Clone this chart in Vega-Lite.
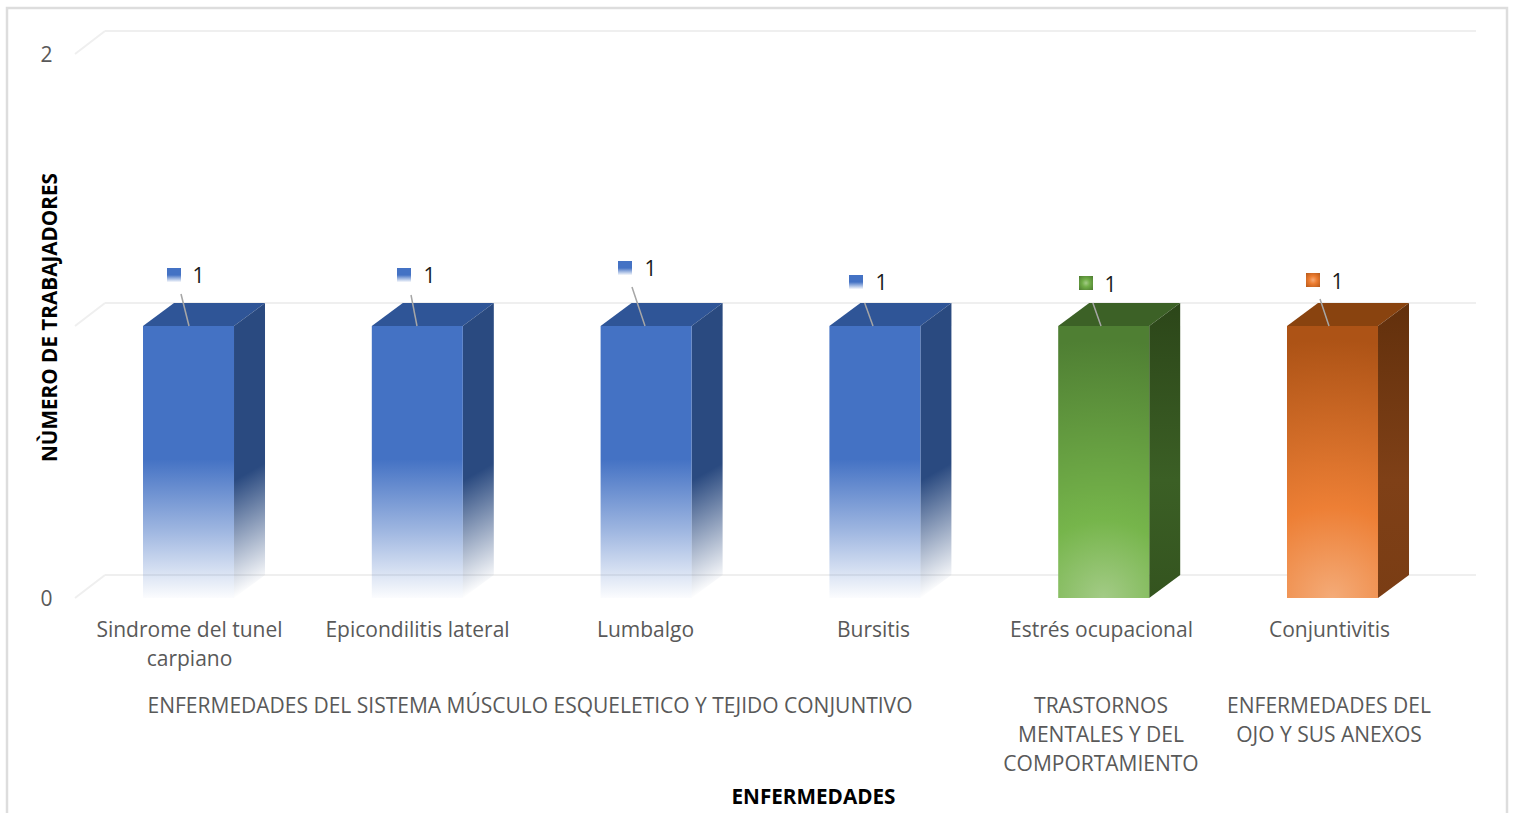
{
"$schema":"https://vega.github.io/schema/vega-lite/v6.json",
"width":1401,"height":568,"autosize":{"type":"none"},
"padding":{"left":75,"top":30,"right":38,"bottom":215},
"background":"#ffffff",
"view":{"stroke":null},
"config":{"font":"Open Sans","view":{"stroke":null}},
"datasets":{
"bars":[
{"name":"Sindrome del tunel carpiano","group":"blue","i":0,"value":1},
{"name":"Epicondilitis lateral","group":"blue","i":1,"value":1},
{"name":"Lumbalgo","group":"blue","i":2,"value":1},
{"name":"Bursitis","group":"blue","i":3,"value":1},
{"name":"Estrés ocupacional","group":"green","i":4,"value":1},
{"name":"Conjuntivitis","group":"orange","i":5,"value":1}],
"sides":[
{"b":0,"group":"blue","sx":0.1989,"lo":0,"hi":1},{"b":0,"group":"blue","sx":0.3344,"lo":0.0846,"hi":1.0846},
{"b":1,"group":"blue","sx":1.1989,"lo":0,"hi":1},{"b":1,"group":"blue","sx":1.3344,"lo":0.0846,"hi":1.0846},
{"b":2,"group":"blue","sx":2.1989,"lo":0,"hi":1},{"b":2,"group":"blue","sx":2.3344,"lo":0.0846,"hi":1.0846},
{"b":3,"group":"blue","sx":3.1989,"lo":0,"hi":1},{"b":3,"group":"blue","sx":3.3344,"lo":0.0846,"hi":1.0846},
{"b":4,"group":"green","sx":4.1989,"lo":0,"hi":1},{"b":4,"group":"green","sx":4.3344,"lo":0.0846,"hi":1.0846},
{"b":5,"group":"orange","sx":5.1989,"lo":0,"hi":1},{"b":5,"group":"orange","sx":5.3344,"lo":0.0846,"hi":1.0846}],
"tops":[
{"b":0,"group":"blue","ty":1,"a":-0.1989,"c":0.1989},{"b":0,"group":"blue","ty":1.0846,"a":-0.0634,"c":0.3344},
{"b":1,"group":"blue","ty":1,"a":0.8011,"c":1.1989},{"b":1,"group":"blue","ty":1.0846,"a":0.9366,"c":1.3344},
{"b":2,"group":"blue","ty":1,"a":1.8011,"c":2.1989},{"b":2,"group":"blue","ty":1.0846,"a":1.9366,"c":2.3344},
{"b":3,"group":"blue","ty":1,"a":2.8011,"c":3.1989},{"b":3,"group":"blue","ty":1.0846,"a":2.9366,"c":3.3344},
{"b":4,"group":"green","ty":1,"a":3.8011,"c":4.1989},{"b":4,"group":"green","ty":1.0846,"a":3.9366,"c":4.3344},
{"b":5,"group":"orange","ty":1,"a":4.8011,"c":5.1989},{"b":5,"group":"orange","ty":1.0846,"a":4.9366,"c":5.3344}],
"grid":[
{"x0":-0.3649,"x1":5.6272,"y0":0.0846,"y1":0.0846},
{"x0":-0.3649,"x1":5.6272,"y0":1.0846,"y1":1.0846},
{"x0":-0.3649,"x1":5.6272,"y0":2.0846,"y1":2.0846},
{"x0":-0.4961,"x1":-0.3649,"y0":0,"y1":0.0846},
{"x0":-0.4961,"x1":-0.3649,"y0":1,"y1":1.0846},
{"x0":-0.4961,"x1":-0.3649,"y0":2,"y1":2.0846}],
"labels":[
{"name":"Sindrome del tunel carpiano","group":"blue","mx":-0.0634,"my":1.1875,"tx":0.0415,"ty":1.1838,"lx":-0.0328,"ly":1.1176,"bx":0.0022,"by":1,"value":1},
{"name":"Epicondilitis lateral","group":"blue","mx":0.9419,"my":1.1875,"tx":1.0511,"ty":1.1838,"lx":0.9725,"ly":1.114,"bx":0.9987,"by":1,"value":1},
{"name":"Lumbalgo","group":"blue","mx":1.9078,"my":1.2132,"tx":2.017,"ty":1.2096,"lx":1.9383,"ly":1.1434,"bx":1.9952,"by":1,"value":1},
{"name":"Bursitis","group":"blue","mx":2.9174,"my":1.1618,"tx":3.0266,"ty":1.1581,"lx":2.9554,"ly":1.0846,"bx":2.9917,"by":1,"value":1},
{"name":"Estrés ocupacional","group":"green","mx":3.9226,"my":1.1581,"tx":4.0275,"ty":1.1507,"lx":3.9528,"ly":1.0846,"bx":3.9882,"by":1,"value":1},
{"name":"Conjuntivitis","group":"orange","mx":4.9148,"my":1.1691,"tx":5.0197,"ty":1.1618,"lx":4.9454,"ly":1.0993,"bx":4.9847,"by":1,"value":1}],
"groups":[
{"label":"ENFERMEDADES DEL SISTEMA MÚSCULO ESQUELETICO Y TEJIDO CONJUNTIVO","at":1.4926},
{"label":"TRASTORNOS\nMENTALES Y DEL\nCOMPORTAMIENTO","at":3.9882},
{"label":"ENFERMEDADES DEL\nOJO Y SUS ANEXOS","at":4.9847}]
},
"layer":[
{"data":{"values":[{"x0":-0.7933,"x1":5.7627,"y0":2.1691,"y1":-1}]},
 "mark":{"type":"rect","fill":null,"stroke":"#dddddd","strokeWidth":2.5},
 "encoding":{
  "x":{"field":"x0","type":"quantitative","scale":{"domain":[-0.4961,5.6272],"nice":false,"zero":false},
   "axis":{"values":[0.0022,0.9987,1.9952,2.9917,3.9882,4.9847],"domain":false,"ticks":false,"grid":false,"labelFontSize":21,"labelColor":"#595959","labelPadding":21,"labelLineHeight":29,"labelBaseline":"top","labelOverlap":false,"labelFlush":false,"labelLimit":400,
    "labelExpr":"split(['Sindrome del tunel\\ncarpiano','Epicondilitis lateral','Lumbalgo','Bursitis','Estrés ocupacional','Conjuntivitis'][round(datum.index*5)],'\\n')",
    "title":"ENFERMEDADES","titleFontSize":20.7,"titleFontWeight":"bold","titleColor":"#000000","titleX":738,"titleY":199.5,"titleBaseline":"middle","titleAnchor":"middle"}},
  "x2":{"field":"x1"},
  "y":{"field":"y0","type":"quantitative","scale":{"domain":[0,2.0882],"nice":false,"zero":false},
   "axis":{"values":[0,1,2],"domain":false,"ticks":false,"grid":false,"labelFontSize":21,"labelColor":"#595959","labelPadding":23,"labelOffset":1.5,"format":"d",
    "title":"NÙMERO DE TRABAJADORES","titleFontSize":20.7,"titleFontWeight":"bold","titleColor":"#000000","titleX":-25,"titleY":287,"titleBaseline":"middle","titleAnchor":"middle"}},
  "y2":{"field":"y1"}}},
{"data":{"name":"grid"},"mark":{"type":"rule","color":"#efefef","strokeWidth":2},
 "encoding":{"x":{"field":"x0","type":"quantitative"},"x2":{"field":"x1"},"y":{"field":"y0","type":"quantitative"},"y2":{"field":"y1"}}},

{"data":{"name":"tops"},"transform":[{"filter":"datum.group==='blue'"}],"mark":{"type":"area","orient":"horizontal","color":"#2f5597"},
 "encoding":{"detail":{"field":"b"},"y":{"field":"ty","type":"quantitative"},"x":{"field":"a","type":"quantitative"},"x2":{"field":"c"}}},
{"data":{"name":"tops"},"transform":[{"filter":"datum.group==='green'"}],"mark":{"type":"area","orient":"horizontal","color":"#3c6126"},
 "encoding":{"detail":{"field":"b"},"y":{"field":"ty","type":"quantitative"},"x":{"field":"a","type":"quantitative"},"x2":{"field":"c"}}},
{"data":{"name":"tops"},"transform":[{"filter":"datum.group==='orange'"}],"mark":{"type":"area","orient":"horizontal","color":"#89430f"},
 "encoding":{"detail":{"field":"b"},"y":{"field":"ty","type":"quantitative"},"x":{"field":"a","type":"quantitative"},"x2":{"field":"c"}}},

{"data":{"name":"sides"},"transform":[{"filter":"datum.group==='blue'"}],
 "mark":{"type":"area","color":{"gradient":"linear","x1":0,"y1":0,"x2":0.06,"y2":1,"stops":[{"offset":0,"color":"#2a4a80"},{"offset":0.6,"color":"#2a4a80"},{"offset":0.99,"color":"rgba(42,74,128,0.02)"},{"offset":1,"color":"rgba(42,74,128,0)"}]}},
 "encoding":{"detail":{"field":"b"},"x":{"field":"sx","type":"quantitative"},"y":{"field":"lo","type":"quantitative"},"y2":{"field":"hi"}}},
{"data":{"name":"sides"},"transform":[{"filter":"datum.group==='green'"}],
 "mark":{"type":"area","color":{"gradient":"linear","x1":0.5,"y1":0,"x2":0.5,"y2":1,"stops":[{"offset":0,"color":"#2c4619"},{"offset":0.6,"color":"#3b5f25"},{"offset":1,"color":"#34541f"}]}},
 "encoding":{"detail":{"field":"b"},"x":{"field":"sx","type":"quantitative"},"y":{"field":"lo","type":"quantitative"},"y2":{"field":"hi"}}},
{"data":{"name":"sides"},"transform":[{"filter":"datum.group==='orange'"}],
 "mark":{"type":"area","color":{"gradient":"linear","x1":0.5,"y1":0,"x2":0.5,"y2":1,"stops":[{"offset":0,"color":"#62300c"},{"offset":0.6,"color":"#7f4017"},{"offset":1,"color":"#7a3d14"}]}},
 "encoding":{"detail":{"field":"b"},"x":{"field":"sx","type":"quantitative"},"y":{"field":"lo","type":"quantitative"},"y2":{"field":"hi"}}},

{"data":{"name":"bars"},"transform":[{"filter":"datum.group==='blue'"}],
 "mark":{"type":"rect","width":91,"color":{"gradient":"linear","x1":0,"y1":0,"x2":0,"y2":1,"stops":[{"offset":0,"color":"#4472c4"},{"offset":0.49,"color":"#4472c4"},{"offset":0.75,"color":"rgba(68,114,196,0.52)"},{"offset":1,"color":"rgba(68,114,196,0.02)"}]}},
 "encoding":{"x":{"field":"i","type":"quantitative"},"y":{"field":"value","type":"quantitative"},"y2":{"datum":0}}},
{"data":{"name":"bars"},"transform":[{"filter":"datum.group==='green'"}],
 "mark":{"type":"rect","width":91,"color":{"gradient":"radial","x1":0.5,"y1":1,"r1":0,"x2":0.5,"y2":1,"r2":0.95,"stops":[{"offset":0,"color":"#a3cb86"},{"offset":0.3,"color":"#76b54b"},{"offset":1,"color":"#4f7f33"}]}},
 "encoding":{"x":{"field":"i","type":"quantitative"},"y":{"field":"value","type":"quantitative"},"y2":{"datum":0}}},
{"data":{"name":"bars"},"transform":[{"filter":"datum.group==='orange'"}],
 "mark":{"type":"rect","width":91,"color":{"gradient":"radial","x1":0.5,"y1":1,"r1":0,"x2":0.5,"y2":1,"r2":0.95,"stops":[{"offset":0,"color":"#f4ab78"},{"offset":0.35,"color":"#ed7f35"},{"offset":1,"color":"#ad5316"}]}},
 "encoding":{"x":{"field":"i","type":"quantitative"},"y":{"field":"value","type":"quantitative"},"y2":{"datum":0}}},

{"data":{"name":"labels"},"mark":{"type":"rule","color":"#a6a6a6","strokeWidth":1.5},
 "encoding":{"x":{"field":"lx","type":"quantitative"},"x2":{"field":"bx"},"y":{"field":"ly","type":"quantitative"},"y2":{"field":"by"}}},

{"data":{"name":"labels"},"transform":[{"filter":"datum.group==='blue'"}],
 "mark":{"type":"point","shape":"square","size":196,"filled":true,"opacity":1,"color":{"gradient":"linear","x1":0,"y1":0,"x2":0,"y2":1,"stops":[{"offset":0,"color":"#4472c4"},{"offset":0.5,"color":"#4472c4"},{"offset":1,"color":"rgba(68,114,196,0.05)"}]}},
 "encoding":{"x":{"field":"mx","type":"quantitative"},"y":{"field":"my","type":"quantitative"}}},
{"data":{"name":"labels"},"transform":[{"filter":"datum.group==='green'"}],
 "mark":{"type":"point","shape":"square","size":196,"filled":true,"opacity":1,"color":{"gradient":"radial","x1":0.5,"y1":0.5,"r1":0,"x2":0.5,"y2":0.5,"r2":0.7,"stops":[{"offset":0,"color":"#a3cb86"},{"offset":0.4,"color":"#70ad47"},{"offset":1,"color":"#4c7a30"}]}},
 "encoding":{"x":{"field":"mx","type":"quantitative"},"y":{"field":"my","type":"quantitative"}}},
{"data":{"name":"labels"},"transform":[{"filter":"datum.group==='orange'"}],
 "mark":{"type":"point","shape":"square","size":196,"filled":true,"opacity":1,"color":{"gradient":"radial","x1":0.5,"y1":0.5,"r1":0,"x2":0.5,"y2":0.5,"r2":0.7,"stops":[{"offset":0,"color":"#f4ab78"},{"offset":0.4,"color":"#ed7d31"},{"offset":1,"color":"#b5581a"}]}},
 "encoding":{"x":{"field":"mx","type":"quantitative"},"y":{"field":"my","type":"quantitative"}}},

{"data":{"name":"labels"},"mark":{"type":"text","fontSize":21,"color":"#1a1a1a","align":"center","baseline":"middle","dx":0.5,"dy":1},
 "encoding":{"x":{"field":"tx","type":"quantitative"},"y":{"field":"ty","type":"quantitative"},"text":{"field":"value","type":"quantitative","format":"d"}}},
{"data":{"name":"groups"},"mark":{"type":"text","fontSize":21,"color":"#595959","align":"center","baseline":"top","lineBreak":"\n","lineHeight":29,"dy":98},
 "encoding":{"x":{"field":"at","type":"quantitative"},"y":{"datum":0,"type":"quantitative"},"text":{"field":"label","type":"nominal"}}}
]
}
